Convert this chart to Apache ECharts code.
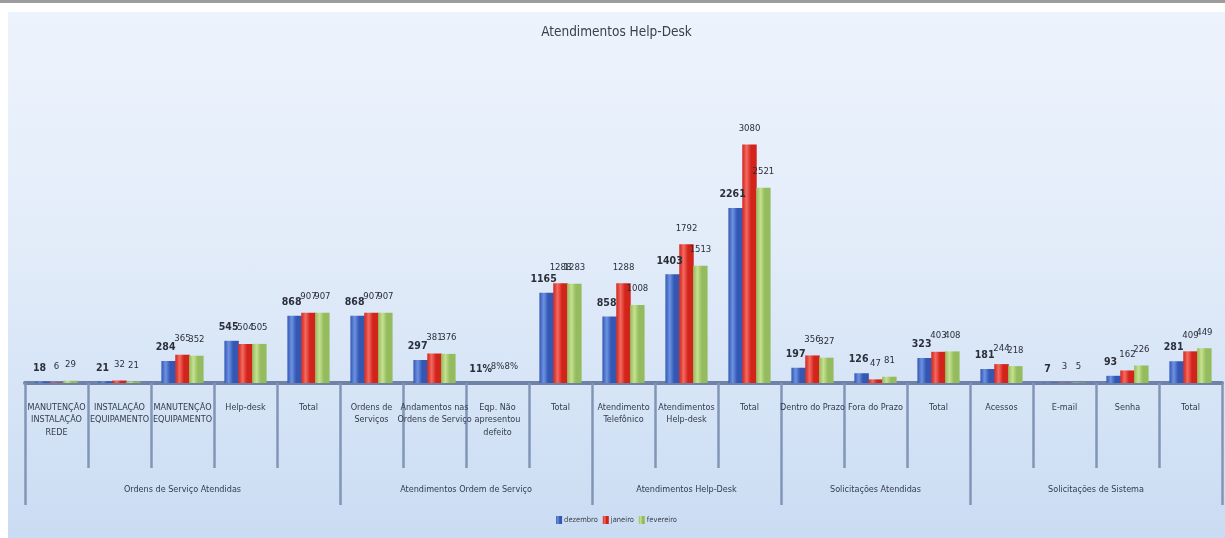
<!DOCTYPE html>
<html>
<head>
<meta charset="utf-8">
<script src="https://cdn.jsdelivr.net/npm/echarts@6/dist/echarts.min.js"></script>
<style>
html,body{margin:0;padding:0;background:#ffffff;width:1225px;height:538px;overflow:hidden;}
#topline{position:absolute;left:0;top:0;width:1225px;height:3px;background:#9c9c9c;}
#chart{position:absolute;left:8px;top:12px;width:1217px;height:526px;
background:linear-gradient(to bottom,#edf3fc 0%,#e2ecf9 45%,#cadcf3 100%);}
</style>
</head>
<body>
<div id="topline"></div>
<div id="chart"></div>
<script>
const categories = [
  'MANUTENÇÃO\nINSTALAÇÃO\nREDE', 'INSTALAÇÃO\nEQUIPAMENTO', 'MANUTENÇÃO\nEQUIPAMENTO', 'Help-desk', 'Total',
  'Ordens de\nServiços', 'Andamentos nas\nOrdens de Serviço', 'Eqp. Não\napresentou\ndefeito', 'Total',
  'Atendimento\nTelefônico', 'Atendimentos\nHelp-desk', 'Total',
  'Dentro do Prazo', 'Fora do Prazo', 'Total',
  'Acessos', 'E-mail', 'Senha', 'Total'
];
const groupNames = ['Ordens de Serviço Atendidas', 'Atendimentos Ordem de Serviço', 'Atendimentos Help-Desk', 'Solicitações Atendidas', 'Solicitações de Sistema'];
const groupSizes = [5, 4, 3, 3, 4];
const seriesNames = ['dezembro', 'janeiro', 'fevereiro'];
const dezembro  = [18, 21, 284, 545, 868, 868, 297, 0.11, 1165, 858, 1403, 2261, 197, 126, 323, 181, 7, 93, 281];
const janeiro   = [6, 32, 365, 504, 907, 907, 381, 0.08, 1288, 1288, 1792, 3080, 356, 47, 403, 244, 3, 162, 409];
const fevereiro = [29, 21, 352, 505, 907, 907, 376, 0.08, 1283, 1008, 1513, 2521, 327, 81, 408, 218, 5, 226, 449];

// half-category points for the group level of the axis
const halfData = [];
const groupBounds = [];
let start = 0;
for (let i = 0; i <= 2 * categories.length; i++) halfData.push('');
groupNames.forEach((g, i) => {
  groupBounds.push(2 * start);
  halfData[2 * start + groupSizes[i]] = g;
  start += groupSizes[i];
});
groupBounds.push(2 * start);

const font = "'DejaVu Sans', sans-serif";
const W = 'normal condensed';
const WB = 'bold condensed';
function grad(dark, light) {
  return new echarts.graphic.LinearGradient(0, 0, 1, 0, [
    {offset: 0, color: dark}, {offset: 0.3, color: light}, {offset: 0.6, color: dark}, {offset: 1, color: dark}
  ]);
}
const colors = [grad('#3457b4', '#6c93e2'), grad('#d3241c', '#f26a60'), grad('#94bc5e', '#c6e08f')];
const legendColors = ['#3d63c2', '#dc2b22', '#9dc468'];
const fmt = p => p.value < 1 ? Math.round(p.value * 100) + '%' : String(p.value);

const chart = echarts.init(document.getElementById('chart'), null, {renderer: 'canvas'});
chart.setOption({
  animation: false,
  color: legendColors,
  title: {
    text: 'Atendimentos Help-Desk', left: 'center', top: 8,
    textStyle: {fontFamily: font, fontSize: 13.5, fontWeight: W, color: '#3a404c'}
  },
  legend: {
    data: seriesNames, bottom: 9, left: 'center', itemWidth: 6, itemHeight: 8, itemGap: 5,
    icon: 'rect',
    textStyle: {fontFamily: font, fontSize: 7.5, fontWeight: W, color: '#3a404c', padding: [0, 0, 0, -3]}
  },
  grid: {left: 17, width: 1212, top: 100, bottom: 155},
  xAxis: [
    {
      type: 'category', data: categories, position: 'bottom',
      axisLine: {show: true, lineStyle: {color: '#6f83a6', width: 4}},
      axisTick: {show: true, interval: 0, length: 85, lineStyle: {color: '#8195b6', width: 2.5}},
      axisLabel: {interval: 0, margin: 18, fontFamily: font, fontSize: 9, fontWeight: W, lineHeight: 12.5, color: '#333b4b'}
    },
    {
      type: 'category', data: halfData, position: 'bottom', boundaryGap: false,
      axisLine: {show: false},
      axisTick: {show: true, interval: (idx) => groupBounds.indexOf(idx) >= 0, length: 122,
        lineStyle: {color: '#8195b6', width: 2.5}},
      axisLabel: {interval: 0, margin: 102, fontFamily: font, fontSize: 9, fontWeight: W, color: '#333b4b'}
    }
  ],
  yAxis: {type: 'value', min: 0, max: 3500, show: false, splitLine: {show: false}},
  series: [dezembro, janeiro, fevereiro].map((d, i) => ({
    name: seriesNames[i], type: 'bar', data: d, xAxisIndex: 0,
    barGap: '-4%', barCategoryGap: '33%',
    itemStyle: {color: colors[i]},
    label: {
      show: true, position: 'top', distance: 8, formatter: fmt,
      fontFamily: font, fontSize: i === 0 ? 10.5 : 9.5,
      fontWeight: i === 0 ? WB : W, color: '#2a2f3a',
      offset: [i === 0 ? -3 : 0, i === 0 ? 0 : -3]
    }
  }))
});
</script>
</body>
</html>
